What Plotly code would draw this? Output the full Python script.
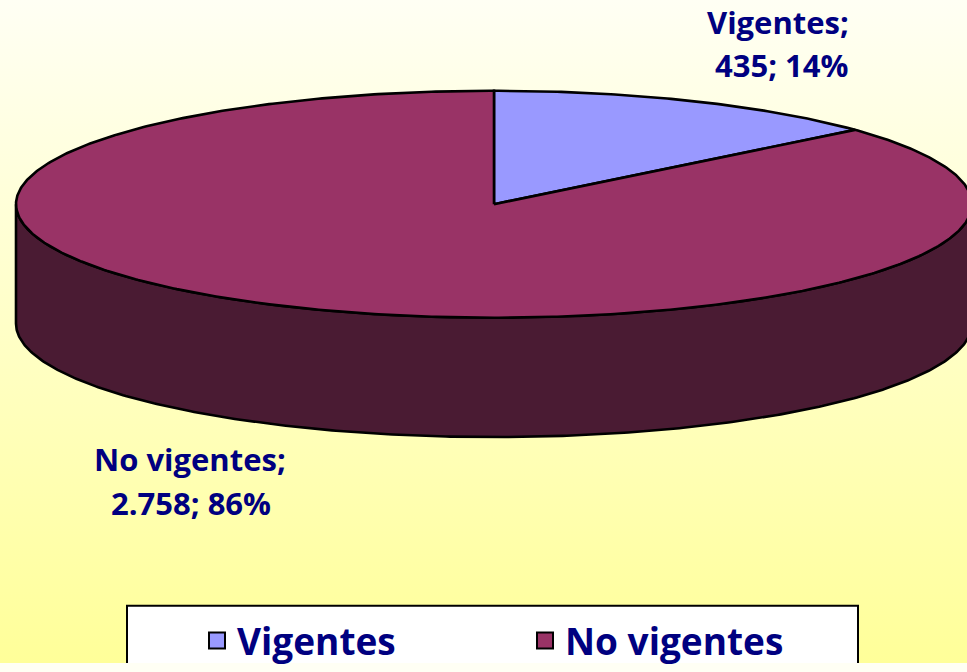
import numpy as np
import plotly.graph_objects as go

# ---- data ----
categories = ["Vigentes", "No vigentes"]
values = [435, 2758]
colors_top = ["#9999FF", "#993366"]
colors_side = ["#4D4D80", "#4A1B33"]

# ---- layout constants (pixels) ----
W, H = 967, 672
CX, CY = 494, 207
RX, RY = 478, 115
DEPTH = 121
FONT = "Open Sans"
NAVY = "#000080"
LW = 2.6

total = sum(values)
fracs = [v / total for v in values]


def arc(a0, a1, dy=0.0, n=None):
    if n is None:
        n = max(int(abs(a1 - a0) * 2), 2)
    th = np.radians(np.linspace(a0, a1, n))
    return CX + RX * np.sin(th), CY - RY * np.cos(th) + dy


fig = go.Figure()

# background gradient
fig.add_trace(go.Scatter(
    x=[0, W, W, 0, 0], y=[0, 0, H, H, 0], mode="lines", fill="toself",
    line=dict(width=0),
    fillgradient=dict(type="vertical", colorscale=[[0, "#FFFFF4"], [1, "#FFFF99"]], start=0, stop=H),
    hoverinfo="skip", showlegend=False))

# slice angles (clockwise from 12 o'clock)
angles = []
acc = 0.0
for f in fracs:
    angles.append((acc * 360, (acc + f) * 360))
    acc += f

# side walls (front half: 90..270 deg)
for (a0, a1), col in zip(angles, colors_side):
    s, e = max(a0, 90), min(a1, 270)
    if e > s:
        xt, yt = arc(s, e)
        xb, yb = arc(e, s, DEPTH)
        fig.add_trace(go.Scatter(
            x=np.concatenate([xt, xb, xt[:1]]), y=np.concatenate([yt, yb, yt[:1]]),
            mode="lines", fill="toself", fillcolor=col,
            line=dict(color="black", width=LW), hoverinfo="skip", showlegend=False))

# top faces
for (a0, a1), col, cat, v in zip(angles, colors_top, categories, values):
    xa, ya = arc(a0, a1)
    fig.add_trace(go.Scatter(
        x=np.concatenate([[CX], xa, [CX]]), y=np.concatenate([[CY], ya, [CY]]),
        mode="lines", fill="toself", fillcolor=col,
        line=dict(color="black", width=LW), name=cat,
        hovertemplate=f"{cat}: {v}<extra></extra>", showlegend=False))

# legend entries
for cat, col in zip(categories, colors_top):
    fig.add_trace(go.Scatter(
        x=[None], y=[None], mode="markers", name=cat,
        marker=dict(symbol="square", size=20, color=col, line=dict(color="black", width=2))))

# data labels
def fmt(v):
    return f"{v:,}".replace(",", ".")

label_pos = [(778, 22, 781, 66), (190, 465, 191, 510)]
for cat, v, f, (x1, y1, x2, y2) in zip(categories, values, fracs, label_pos):
    fig.add_annotation(x=x1, y=y1, text=f"{cat};", showarrow=False, xanchor="center", yanchor="middle",
                       font=dict(family=FONT, size=31, color=NAVY, weight="bold"))
    fig.add_annotation(x=x2, y=y2, text=f"{fmt(v)}; {round(f*100)}%", showarrow=False,
                       xanchor="center", yanchor="middle",
                       font=dict(family=FONT, size=31, color=NAVY, weight="bold"))

# legend box
fig.add_shape(type="rect", x0=127, x1=858, y0=614, y1=700, xref="x", yref="y",
              fillcolor="white", line=dict(color="black", width=2), layer="above")

fig.update_layout(
    width=W, height=H, margin=dict(l=0, r=0, t=0, b=0),
    paper_bgcolor="#FFFFF4", plot_bgcolor="rgba(0,0,0,0)",
    xaxis=dict(range=[0, W], visible=False, fixedrange=True),
    yaxis=dict(range=[H, 0], visible=False, fixedrange=True),
    showlegend=True,
    legend=dict(orientation="h", x=197 / W, xanchor="left", y=1 - 650 / H, yanchor="middle",
                bgcolor="rgba(0,0,0,0)", borderwidth=0,
                font=dict(family=FONT, size=37, color=NAVY, weight="bold"),
                entrywidthmode="pixels", entrywidth=283, itemsizing="trace"),
)

fig.write_html("out.html", config={"displayModeBar": False},
               post_script="document.body.style.margin='0';document.body.style.overflow='hidden';")
